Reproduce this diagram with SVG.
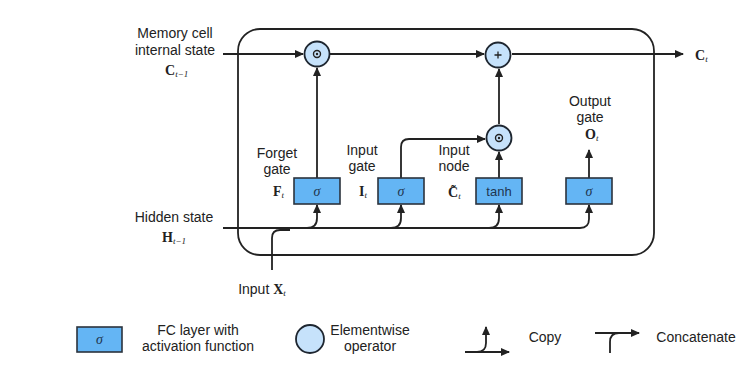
<svg xmlns="http://www.w3.org/2000/svg" width="743" height="372" viewBox="0 0 743 372">
<style>
.t{font-family:"Liberation Sans",Arial,sans-serif;font-size:14px;fill:#222;text-anchor:middle}
.m{font-family:"Liberation Serif","DejaVu Serif","Times New Roman",serif;font-size:14px;font-weight:bold;fill:#222}
.s{font-family:"Liberation Serif","Times New Roman",serif;font-size:9px;font-style:italic;font-weight:normal}
.ln{fill:none;stroke:#222;stroke-width:1.8}
.box{fill:#64b5f4;stroke:#2b333d;stroke-width:1.6}
.circ{fill:#c6e2fb;stroke:#1e2630;stroke-width:1.8}
.bt{font-family:"Liberation Sans",Arial,sans-serif;font-size:13px;fill:#1f3550;text-anchor:middle}
.sg{font-family:"Liberation Serif","Times New Roman",serif;font-size:14px;font-style:italic;fill:#1f3550;text-anchor:middle}
</style>
<defs>
<marker id="ah" markerWidth="9" markerHeight="8" refX="8" refY="4" orient="auto" markerUnits="userSpaceOnUse">
<path d="M0,0 L9,4 L0,8 Z" fill="#222"/>
</marker>
</defs>
<rect width="743" height="372" fill="#ffffff"/>
<rect id="cell" x="238" y="29" width="416" height="226" rx="22" ry="22" fill="none" stroke="#222" stroke-width="1.8"/>

<g id="connectors">
<path class="ln" d="M223,54 H303" marker-end="url(#ah)"/>
<path class="ln" d="M330,54 H484" marker-end="url(#ah)"/>
<path class="ln" d="M512,54 H683" marker-end="url(#ah)"/>
<path class="ln" d="M317,178 V68" marker-end="url(#ah)"/>
<path class="ln" d="M401,178 V147 Q401,139 409,139 H485" marker-end="url(#ah)"/>
<path class="ln" d="M499,178 V152" marker-end="url(#ah)"/>
<path class="ln" d="M499,124 V69" marker-end="url(#ah)"/>
<path class="ln" d="M589,178 V150" marker-end="url(#ah)"/>
<path class="ln" d="M223,228 H580 Q589,228 589,219 V205" marker-end="url(#ah)"/>
<path class="ln" d="M307,228 Q317,228 317,218 V205" marker-end="url(#ah)"/>
<path class="ln" d="M391,228 Q401,228 401,218 V205" marker-end="url(#ah)"/>
<path class="ln" d="M489,228 Q499,228 499,218 V205" marker-end="url(#ah)"/>
<path class="ln" d="M272,270 V238 Q272,230 280,230 H290"/>
</g>

<g id="mul1"><circle class="circ" cx="317" cy="54" r="12.5"/><circle cx="317" cy="54" r="3.5" fill="none" stroke="#222" stroke-width="1.4"/><circle cx="317" cy="54" r="1.2" fill="#222"/></g>
<g id="add"><circle class="circ" cx="498" cy="55" r="12.5"/><path d="M494.5,55 H501.5 M498,51.5 V58.5" stroke="#222" stroke-width="1.3"/></g>
<g id="mul2"><circle class="circ" cx="499" cy="138" r="12.5"/><circle cx="499" cy="138" r="3.5" fill="none" stroke="#222" stroke-width="1.4"/><circle cx="499" cy="138" r="1.2" fill="#222"/></g>

<g id="forget"><rect class="box" x="294" y="178" width="46" height="26"/><text class="sg" x="317" y="196">σ</text></g>
<g id="input"><rect class="box" x="378" y="178" width="46" height="26"/><text class="sg" x="401" y="196">σ</text></g>
<g id="node"><rect class="box" x="476" y="178" width="46" height="26"/><text class="bt" x="499" y="195.5">tanh</text></g>
<g id="output"><rect class="box" x="566" y="178" width="46" height="26"/><text class="sg" x="589" y="196">σ</text></g>

<g id="labels">
<text class="t" x="175" y="38">Memory cell</text>
<text class="t" x="175" y="55">internal state</text>
<text class="m" x="165" y="75">C<tspan class="s" dy="2">t−1</tspan></text>
<text class="m" x="695" y="60">C<tspan class="s" dy="2">t</tspan></text>
<text class="t" x="277" y="158">Forget</text>
<text class="t" x="277" y="174">gate</text>
<text class="m" x="273" y="196">F<tspan class="s" dy="2">t</tspan></text>
<text class="t" x="362" y="155">Input</text>
<text class="t" x="362" y="171">gate</text>
<text class="m" x="359" y="196">I<tspan class="s" dy="2">t</tspan></text>
<text class="t" x="454" y="155">Input</text>
<text class="t" x="454" y="171">node</text>
<text class="m" x="448" y="197">C&#771;<tspan class="s" dy="2">t</tspan></text>
<text class="t" x="590" y="106">Output</text>
<text class="t" x="590" y="122">gate</text>
<text class="m" x="585" y="139">O<tspan class="s" dy="2">t</tspan></text>
<text class="t" x="174" y="222">Hidden state</text>
<text class="m" x="162" y="242">H<tspan class="s" dy="2">t−1</tspan></text>
<text class="t" x="262" y="294">Input <tspan class="m" style="text-anchor:start">X<tspan class="s" dy="2">t</tspan></tspan></text>
</g>

<g id="legend">
<rect class="box" x="77" y="327" width="45" height="25"/><text class="sg" x="99.5" y="344">σ</text>
<text class="t" x="198" y="335">FC layer with</text>
<text class="t" x="198" y="351">activation function</text>
<circle class="circ" cx="310" cy="339" r="14"/>
<text class="t" x="370" y="335">Elementwise</text>
<text class="t" x="370" y="351">operator</text>
<path class="ln" d="M465,352 H509" marker-end="url(#ah)"/>
<path class="ln" d="M477,352 Q486,352 486,343 V327" marker-end="url(#ah)"/>
<text class="t" x="545" y="342">Copy</text>
<path class="ln" d="M595,333 H639" marker-end="url(#ah)"/>
<path class="ln" d="M610,353 V342 Q610,333 619,333"/>
<text class="t" x="696" y="342">Concatenate</text>
</g>
</svg>
